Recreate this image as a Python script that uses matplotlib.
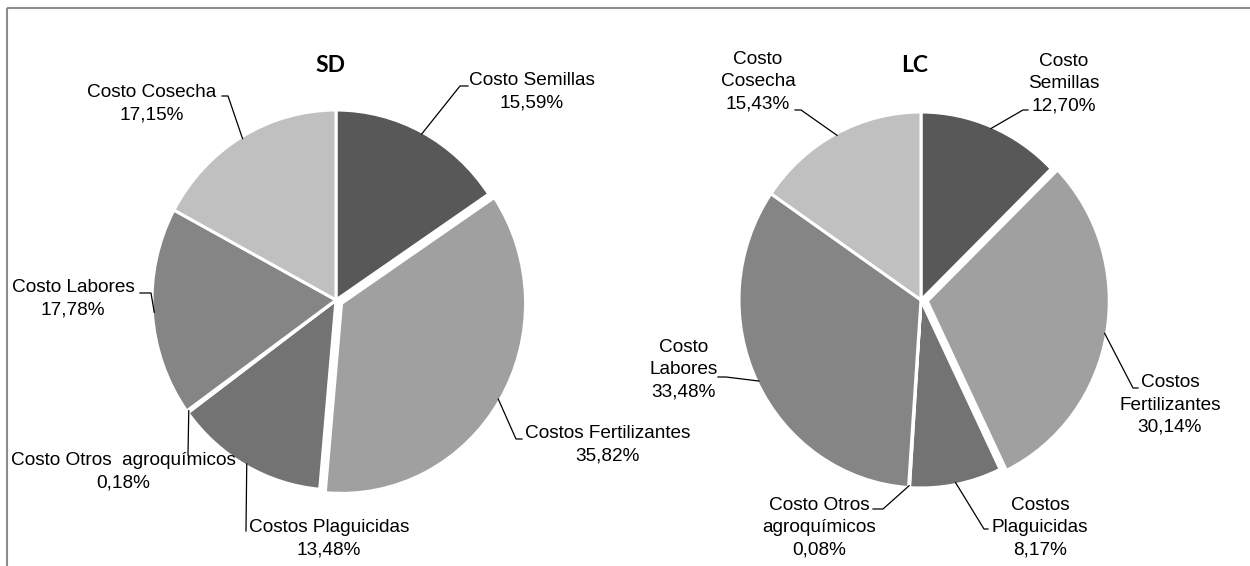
import numpy as np
import matplotlib
matplotlib.use("Agg")
import matplotlib.pyplot as plt

W, H = 1250, 566

categories = ["Costo Semillas", "Costos Fertilizantes", "Costos Plaguicidas",
              "Costo Otros agroquímicos", "Costo Labores", "Costo Cosecha"]
sd_values = [15.59, 35.82, 13.48, 0.18, 17.78, 17.15]
lc_values = [12.70, 30.14, 8.17, 0.08, 33.48, 15.43]
sd_labels = ["Costo Semillas", "Costos Fertilizantes", "Costos Plaguicidas",
             "Costo Otros  agroquímicos", "Costo Labores", "Costo Cosecha"]
lc_labels = ["Costo\nSemillas", "Costos\nFertilizantes", "Costos\nPlaguicidas",
             "Costo Otros\nagroquímicos", "Costo\nLabores", "Costo\nCosecha"]

colors = ["#585858", "#a0a0a0", "#737373", "#6a6a6a", "#858585", "#c0c0c0"]
explode = [0, 0.035, 0, 0, 0, 0]

# label layout in pixels: (text centre x, text centre y, elbow x, elbow y, leader end x)
sd_layout = [
    (532, 92, 460, 86, 468),
    (608, 445, 516, 439, 522),
    (329, 539, 246, 531, 246),
    (123, 472, 188, 455, 188),
    (73, 299, 151, 293, 140),
    (152, 104, 228, 96, 222),
]
lc_layout = [
    (1064, 84, 1023, 110, 1028),
    (1170, 405, 1133, 388, 1138),
    (1040, 528, 984, 529, 988),
    (819, 528, 883, 509, 873),
    (684, 370, 726, 377, 718),
    (758, 82, 801, 110, 795),
]

fig = plt.figure(figsize=(W / 100, H / 100), dpi=100)
plt.rcParams["font.family"] = ["Liberation Sans", "DejaVu Sans"]

# overlay axes in pixel coordinates for frame, titles and labels
over = fig.add_axes([0, 0, 1, 1], zorder=3)
over.set_xlim(0, W)
over.set_ylim(H, 0)
over.axis("off")
over.plot([7, W], [7.5, 7.5], color="#8c8c8c", lw=1.5, solid_capstyle="butt")
over.plot([7, 7], [7.5, H], color="#8c8c8c", lw=1.5, solid_capstyle="butt")


def draw_pie(values, labels, layout, cx, cy, rx, ry, title):
    ax = fig.add_axes([(cx - rx) / W, 1 - (cy + ry) / H, 2 * rx / W, 2 * ry / H])
    wedges, _ = ax.pie(values, colors=colors, startangle=90, counterclock=False,
                       explode=explode, radius=1,
                       wedgeprops=dict(edgecolor="white", linewidth=2.2))
    for w in wedges:
        w.set_clip_on(False)
    ax.set_aspect("auto")
    ax.set_xlim(-1, 1)
    ax.set_ylim(-1, 1)
    ax.axis("off")

    over.text(cx - 6, 65, title, ha="center", va="center", fontsize=16.5,
              fontweight="bold", family=["Lato", "DejaVu Sans"])

    total = float(sum(values))
    cum = np.cumsum([0] + list(values))
    for i, v in enumerate(values):
        theta = np.deg2rad(90 - 360 * (cum[i] + v / 2) / total)
        e = explode[i]
        px = cx + rx * (1 + e) * np.cos(theta) * 0.99
        py = cy - ry * (1 + e) * np.sin(theta) * 0.99
        tx, ty, ex, ey, sx = layout[i]
        over.plot([px, ex, sx], [py, ey, ey], color="black", lw=0.9)
        over.text(tx, ty, f"{labels[i]}\n{v:.2f}%".replace(".", ","),
                  ha="center", va="center", fontsize=13.7, linespacing=1.4)


draw_pie(sd_values, sd_labels, sd_layout, 336, 300, 184, 190, "SD")
draw_pie(lc_values, lc_labels, lc_layout, 921, 300, 182, 188, "LC")

fig.savefig("out.png", dpi=100, facecolor="white")
